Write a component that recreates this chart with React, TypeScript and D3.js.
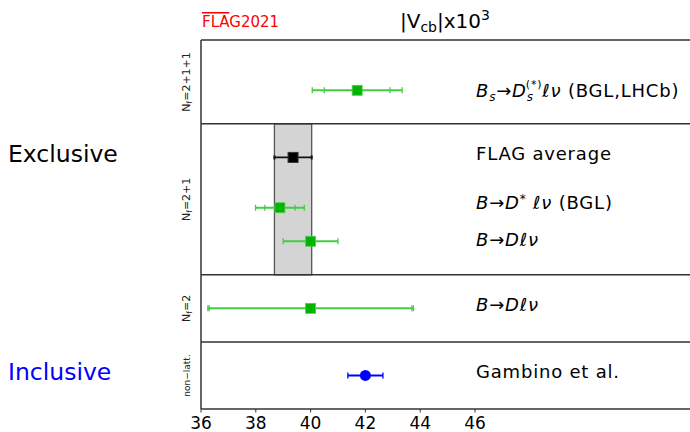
import * as d3 from "d3";

const W = 690;
const H = 432;

// chart values
const xTicks = [36, 38, 40, 42, 44, 46];
const dividers = [2, 4, 8.5];
const flagAvg = { value: 39.36, err: 0.68, y: 7.5 };
const bandRows = [4, 8.5];

const names = ["BsDs", "BDstar", "BD21", "BD2", "Gambino"];
const values = [41.7, 38.88, 40.0, 40.0, 42.0];
const statErr = [1.2, 0.55, 1.0, 3.7, 0.64];
const totErr = [1.64, 0.89, 1.0, 3.75, 0.64];
const rows = [9.5, 6, 5, 3, 1];
const kinds = ["lat", "lat", "lat", "lat", "nonlat"];

const nfLabels = [
  { sub: "f", text: "=2+1+1", y: 9.75 },
  { sub: "f", text: "=2+1", y: 6.25 },
  { sub: "f", text: "=2", y: 3 },
];

const GREEN = "#00b400";
const GREEN_BAR = "#44cc44";
const FONT = "'DejaVu Sans', sans-serif";

export default function App() {
  const x = d3.scaleLinear().domain([36, 46]).range([201, 475]);
  const y = d3.scaleLinear().domain([0, 11]).range([409, 40]);

  const capH = 6;

  const errBar = (v: number, s: number, t: number, yy: number, color: string, key: string) => {
    const py = y(yy);
    const ends = [v - t, v + t];
    const inner = s < t ? [v - s, v + s] : [];
    return (
      <g key={key} stroke={color} strokeWidth={2}>
        <line x1={x(v - t)} x2={x(v + t)} y1={py} y2={py} />
        {[...ends, ...inner].map((e, i) => (
          <line key={i} x1={x(e)} x2={x(e)} y1={py - capH / 2} y2={py + capH / 2} strokeWidth={1.3} />
        ))}
      </g>
    );
  };

  const label = (yy: number, content: any, key: string) => (
    <text
      key={key}
      x={476}
      y={y(yy)}
      dy="0.35em"
      fontSize={18}
      letterSpacing={0.8}
      fontFamily={FONT}
      fill="#000"
    >
      {content}
    </text>
  );

  return (
    <svg
      width={W}
      height={H}
      style={{ position: "fixed", left: 0, top: 0, background: "#fff" }}
    >
      {/* title */}
      <text x={202} y={27} fill="#ff0000" fontSize={15} fontFamily={FONT}>
        <tspan style={{ textDecoration: "overline" }}>FLA</tspan>G2021
      </text>
      <text x={400} y={28} fontSize={20} fontFamily={FONT}>
        |V<tspan fontSize={14} dy={4}>cb</tspan>
        <tspan dy={-4}>|x10</tspan>
        <tspan fontSize={14} dy={-8}>3</tspan>
      </text>

      {/* left group labels */}
      <text x={8} y={y(7.6)} dy="0.35em" fontSize={23.5} fontFamily={FONT} fill="#000">
        Exclusive
      </text>
      <text x={8} y={y(1.1)} dy="0.33em" fontSize={23.5} fontFamily={FONT} fill="#0000ff">
        Inclusive
      </text>

      {/* band */}
      <rect
        x={x(flagAvg.value - flagAvg.err)}
        y={y(bandRows[1])}
        width={x(flagAvg.value + flagAvg.err) - x(flagAvg.value - flagAvg.err)}
        height={y(bandRows[0]) - y(bandRows[1])}
        fill="#d4d4d4"
        stroke="#555"
        strokeWidth={1.3}
      />

      {/* frame */}
      <g stroke="#333" strokeWidth={1.5} fill="none">
        <line x1={x(36)} x2={W} y1={y(11)} y2={y(11)} />
        <line x1={x(36)} x2={W} y1={y(0)} y2={y(0)} />
        <line x1={x(36)} x2={x(36)} y1={y(11)} y2={y(0)} />
        {dividers.map((d) => (
          <line key={d} x1={x(36)} x2={W} y1={y(d)} y2={y(d)} />
        ))}
      </g>

      {/* x axis */}
      {xTicks.map((t) => (
        <g key={t}>
          <line x1={x(t)} x2={x(t)} y1={y(0)} y2={y(0) + 3.5} stroke="#333" strokeWidth={1} />
          <text x={x(t)} y={y(0) + 19.5} textAnchor="middle" fontSize={17} fontFamily={FONT}>
            {t}
          </text>
        </g>
      ))}

      {/* Nf labels */}
      {nfLabels.map((n, i) => (
        <text
          key={i}
          transform={`translate(190,${y(n.y)}) rotate(-90)`}
          textAnchor="middle"
          fontSize={11}
          fontFamily={FONT}
          fill="#222"
        >
          N<tspan fontSize={7.5} dy={2}>{n.sub}</tspan>
          <tspan dy={-2}>{n.text}</tspan>
        </text>
      ))}
      <text
        transform={`translate(190,${y(1)}) rotate(-90)`}
        textAnchor="middle"
        fontSize={9}
        fontFamily={FONT}
        fill="#222"
      >
        non−latt.
      </text>

      {/* FLAG average */}
      <g>
        <line
          x1={x(flagAvg.value - flagAvg.err)}
          x2={x(flagAvg.value + flagAvg.err)}
          y1={y(flagAvg.y)}
          y2={y(flagAvg.y)}
          stroke="#111"
          strokeWidth={1.8}
        />
        {[-1, 1].map((s) => (
          <line
            key={s}
            x1={x(flagAvg.value + s * flagAvg.err)}
            x2={x(flagAvg.value + s * flagAvg.err)}
            y1={y(flagAvg.y) - 2}
            y2={y(flagAvg.y) + 2}
            stroke="#111"
            strokeWidth={2}
          />
        ))}
        <rect x={x(flagAvg.value) - 5} y={y(flagAvg.y) - 5} width={10} height={10} fill="#000" stroke="#333" />
      </g>

      {/* results */}
      {names.map((n, i) => {
        const nonlat = kinds[i] === "nonlat";
        const px = x(values[i]);
        const py = y(rows[i]);
        return (
          <g key={n}>
            {errBar(values[i], statErr[i], totErr[i], rows[i], nonlat ? "#0000ff" : GREEN_BAR, n)}
            {nonlat ? (
              <circle cx={px} cy={py} r={5.5} fill="#0000ff" />
            ) : (
              <rect x={px - 5} y={py - 5} width={10} height={10} fill={GREEN} stroke="#55cc55" strokeWidth={0.8} />
            )}
          </g>
        );
      })}

      {/* right labels */}
      {label(
        9.5,
        <>
          <tspan fontStyle="italic">B</tspan>
          <tspan fontStyle="italic" fontSize={12} dy={4}>s</tspan>
          <tspan dy={-4}>→</tspan>
          <tspan fontStyle="italic">D</tspan>
          <tspan fontStyle="italic" fontSize={12} dy={4}>s</tspan>
          <tspan fontSize={11} dx={-8} dy={-13}>(*)</tspan>
          <tspan fontStyle="italic" dy={9}>ℓν</tspan>
          <tspan> (BGL,LHCb)</tspan>
        </>,
        "l1"
      )}
      {label(7.6, "FLAG average", "l2")}
      {label(
        6.15,
        <>
          <tspan fontStyle="italic">B</tspan>→<tspan fontStyle="italic">D</tspan>
          <tspan fontSize={12} dy={-6}>*</tspan>
          <tspan fontStyle="italic" dy={6}> ℓν</tspan> (BGL)
        </>,
        "l3"
      )}
      {label(
        5.05,
        <>
          <tspan fontStyle="italic">B</tspan>→<tspan fontStyle="italic">Dℓν</tspan>
        </>,
        "l4"
      )}
      {label(
        3.1,
        <>
          <tspan fontStyle="italic">B</tspan>→<tspan fontStyle="italic">Dℓν</tspan>
        </>,
        "l5"
      )}
      {label(1.1, "Gambino et al.", "l6")}
    </svg>
  );
}
